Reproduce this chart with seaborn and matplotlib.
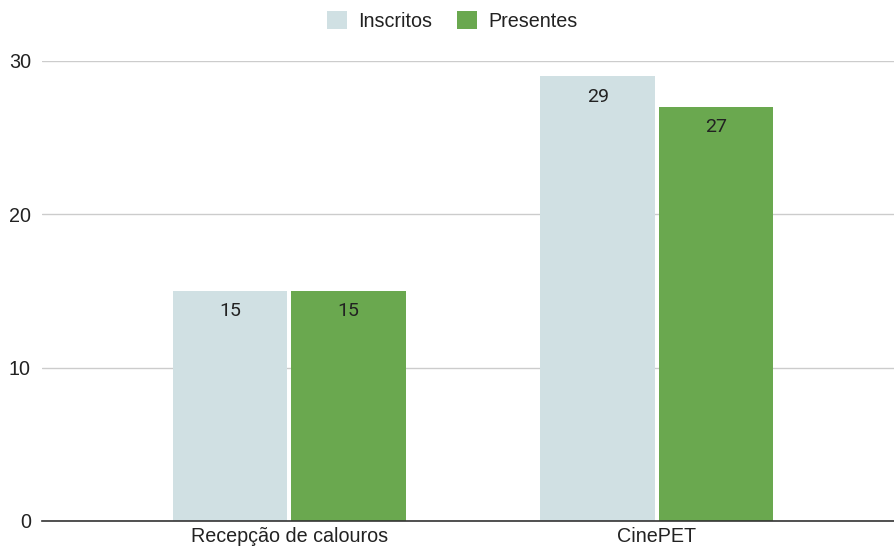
import matplotlib
matplotlib.use("Agg")
import matplotlib.pyplot as plt
import seaborn as sns
import pandas as pd
from matplotlib.patches import Patch

eventos = ["Recepção de calouros", "CinePET"]
inscritos = [15, 29]
presentes = [15, 27]
series = ["Inscritos", "Presentes"]
cores = ["#d0e0e3", "#6aa84f"]
y_ticks = [0, 10, 20, 30]

df = pd.DataFrame({
    "evento": eventos * 2,
    "grupo": [series[0]] * len(eventos) + [series[1]] * len(eventos),
    "valor": inscritos + presentes,
})

sns.set_theme(style="white")
plt.rcParams["font.family"] = ["Liberation Sans", "DejaVu Sans"]

fig = plt.figure(figsize=(8.94, 5.49), dpi=100)
ax = fig.add_axes([42 / 894, 1 - 521 / 549, 852 / 894, 460 / 549])

sns.barplot(data=df, x="evento", y="valor", hue="grupo", palette=cores,
            width=0.645, gap=0.035, saturation=1, ax=ax, legend=False,
            edgecolor="none", linewidth=0)

ax.set_xlim(-0.673, 1.645)
ax.set_ylim(0, 30)
ax.set_yticks(y_ticks)
ax.set_xlabel("")
ax.set_ylabel("")
ax.grid(axis="y", color="#cccccc", linewidth=1)
ax.set_axisbelow(True)
for s in ["top", "right", "left"]:
    ax.spines[s].set_visible(False)
ax.spines["bottom"].set_color("#333333")
ax.spines["bottom"].set_linewidth(1.2)
ax.tick_params(axis="both", length=0, labelsize=14.2, colors="#222222")
ax.tick_params(axis="y", pad=8)
ax.tick_params(axis="x", pad=4)

for cont in ax.containers:
    ax.bar_label(cont, fmt="%d", padding=-21, fontsize=14, color="#222222",
                 family=["Roboto", "DejaVu Sans"])

handles = [Patch(facecolor=c, edgecolor="none") for c in cores]
fig.legend(handles, series, loc="center", bbox_to_anchor=(0.506, 1 - 21 / 549),
           ncol=2, frameon=False, fontsize=14.2, handlelength=1.0,
           handleheight=1.0, handletextpad=0.6, columnspacing=1.25,
           labelcolor="#222222")

fig.savefig("out.png", dpi=100)
